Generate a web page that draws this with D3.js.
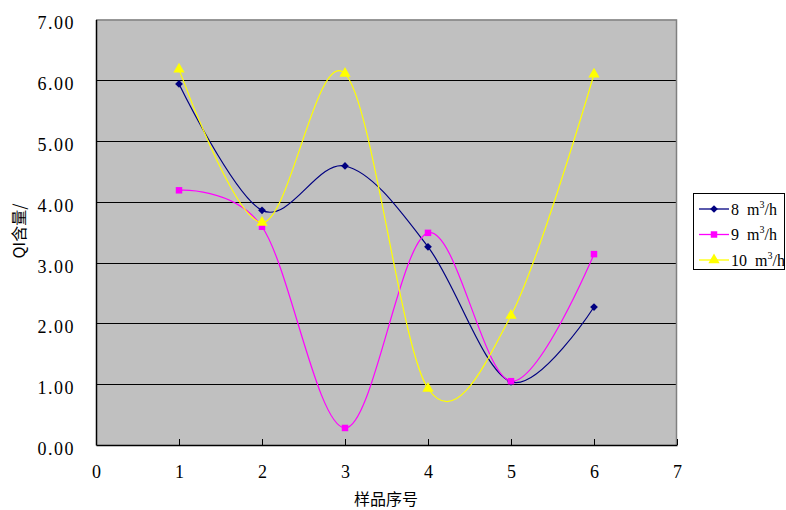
<!DOCTYPE html>
<html>
<head>
<meta charset="utf-8">
<style>
  body { margin:0; background:#fff; }
  .title { font-family:"Noto Sans CJK SC", "Liberation Serif", serif; font-size:16px; fill:#000; }
  .legend text { font-family:"Liberation Serif", serif; font-size:16px; fill:#000; }
  .grid line { stroke:#000; stroke-width:1; }
  .series { fill:none; stroke-width:1.2; }
</style>
</head>
<body>
<svg width="786" height="510"></svg>
<script src="https://cdn.jsdelivr.net/npm/d3@7"></script>
<script>

// data
var samples = [1, 2, 3, 4, 5, 6]
var flow8  = [5.94, 3.86, 4.59, 3.26, 1.04, 2.27]
var flow9  = [4.19, 3.59, 0.28, 3.49, 1.05, 3.14]
var flow10 = [6.18, 3.66, 6.11, 0.93, 2.13, 6.10]
var seriesNames = ["8", "9", "10"]
var xTicks = [0, 1, 2, 3, 4, 5, 6, 7]
var yTicks = [0, 1, 2, 3, 4, 5, 6, 7]

var svg = d3.select("svg")

var plotL = 96, plotR = 677, plotT = 19.5, plotB = 445

var x = d3.scaleLinear().domain([0, 7]).range([plotL, plotR])
var y = d3.scaleLinear().domain([0, 7]).range([plotB, plotT])

// diamond = rotated square
var series = [
  {name: seriesNames[0], values: flow8,  color: "#000080", symbol: d3.symbolSquare, size: 30, rot: 45},
  {name: seriesNames[1], values: flow9,  color: "#FF00FF", symbol: d3.symbolSquare, size: 42, rot: 0},
  {name: seriesNames[2], values: flow10, color: "#FFFF00", symbol: d3.symbolTriangle, size: 55, rot: 0}
]

// plot background
svg.append("rect")
  .attr("x", plotL).attr("y", plotT)
  .attr("width", plotR - plotL).attr("height", plotB - plotT)
  .attr("fill", "#C0C0C0")

// horizontal grid
svg.append("g").attr("class", "grid")
  .selectAll("line")
  .data(yTicks.slice(1, -1))
  .enter().append("line")
  .attr("x1", plotL).attr("x2", plotR)
  .attr("y1", function(d) { return Math.round(y(d)) + 0.5 })
  .attr("y2", function(d) { return Math.round(y(d)) + 0.5 })

// top / right frame in grey
svg.append("path")
  .attr("d", "M" + plotL + "," + (plotT + 0.5) + "H" + (plotR - 0.5) + "V" + plotB)
  .attr("fill", "none").attr("stroke", "#808080").attr("stroke-width", 1.5)

// x axis with inward ticks
var xAxis = svg.append("g")
  .attr("transform", "translate(0," + plotB + ")")
  .call(d3.axisBottom(x).tickValues(xTicks).tickSizeInner(-6).tickSizeOuter(0).tickPadding(20).tickFormat(d3.format("d")))
xAxis.select(".domain").attr("stroke", "#000").attr("stroke-width", 1.5)
xAxis.selectAll(".tick line").attr("stroke", "#000")
xAxis.selectAll(".tick text")
  .style("font-family", "'Liberation Serif', serif").style("font-size", "18px")

// y axis, labels only
var yAxis = svg.append("g")
  .attr("transform", "translate(" + plotL + ",0)")
  .call(d3.axisLeft(y).tickValues(yTicks).tickSize(0).tickPadding(21).tickFormat(d3.format(".2f")))
yAxis.select(".domain").attr("stroke", "#000").attr("stroke-width", 1.5)
yAxis.selectAll(".tick text")
  .attr("dy", "0.52em")
  .style("font-family", "'Liberation Serif', serif").style("font-size", "18px")
  .style("letter-spacing", "1.5px")

// smoothed lines
var line = d3.line()
  .x(function(d, i) { return x(samples[i]) })
  .y(function(d) { return y(d) })
  .curve(d3.curveCardinal)

series.forEach(function(s) {
  svg.append("path")
    .attr("class", "series")
    .attr("stroke", s.color)
    .attr("d", line(s.values))

  svg.append("g").selectAll("path")
    .data(s.values)
    .enter().append("path")
    .attr("d", d3.symbol().type(s.symbol).size(s.size))
    .attr("fill", s.color)
    .attr("transform", function(d, i) { return "translate(" + x(samples[i]) + "," + y(d) + ") rotate(" + s.rot + ")" })
})

// axis titles
svg.append("text")
  .attr("class", "title")
  .attr("x", 386).attr("y", 505)
  .attr("text-anchor", "middle")
  .text("样品序号")

svg.append("text")
  .attr("class", "title")
  .attr("transform", "translate(25,231) rotate(-90)")
  .attr("text-anchor", "middle")
  .text("QI含量/")

// legend
var legend = svg.append("g").attr("class", "legend")
legend.append("rect")
  .attr("x", 693.5).attr("y", 193.5)
  .attr("width", 91).attr("height", 76)
  .attr("fill", "#fff").attr("stroke", "#000")

var rows = legend.selectAll(".row")
  .data(series)
  .enter().append("g")
  .attr("class", "row")
  .attr("transform", function(d, i) { return "translate(0," + (209 + i * 25.5) + ")" })

rows.append("line")
  .attr("x1", 699).attr("x2", 729)
  .attr("stroke", function(d) { return d.color })
  .attr("stroke-width", 1.3)

rows.append("path")
  .attr("d", function(d) { return d3.symbol().type(d.symbol).size(d.size)() })
  .attr("transform", function(d) { return "translate(714,0) rotate(" + d.rot + ")" })
  .attr("fill", function(d) { return d.color })

var lt = rows.append("text")
  .attr("x", 731).attr("y", 5.5)
lt.append("tspan").text(function(d) { return d.name + "\u00a0\u00a0m" })
lt.append("tspan").attr("dy", -7).attr("font-size", "10px").text("3")
lt.append("tspan").attr("dy", 7).text("/h")

</script>
</body>
</html>
